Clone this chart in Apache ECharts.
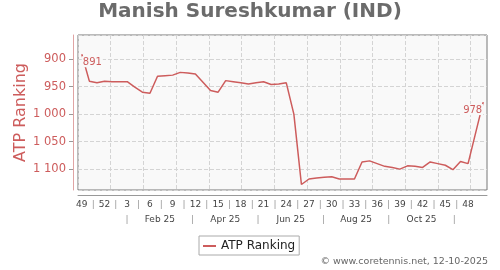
<!DOCTYPE html>
<html>
<head>
<meta charset="utf-8">
<script src="https://cdn.jsdelivr.net/npm/echarts@6/dist/echarts.min.js"></script>
<style>
html, body { margin: 0; padding: 0; background: #fff; }
#chart { width: 500px; height: 270px; }
</style>
</head>
<body>
<div id="chart"></div>
<script>
// ISO weeks, from week 49 of 2024 to week 50 of 2025
const weeks = [49, 50, 51, 52, 1, 2, 3, 4, 5, 6, 7, 8, 9, 10, 11, 12, 13, 14, 15, 16, 17, 18, 19, 20, 21, 22, 23, 24, 25, 26,
    27, 28, 29, 30, 31, 32, 33, 34, 35, 36, 37, 38, 39, 40, 41, 42, 43, 44, 45, 46, 47, 48, 49, 50]
const ranking = [891, 940, 943, 940, 941, 941, 941, 951, 960, 962, 931, 930, 929, 924, 925, 927, 942, 957, 960, 939,
    941, 943, 945, 943, 941, 946, 945, 943, 1000, 1128, 1118, 1116, 1115, 1114, 1118, 1118, 1118, 1087, 1085, 1090,
    1095, 1097, 1100, 1094, 1095, 1097, 1087, 1090, 1093, 1101, 1086, 1090, 1034, 978]
const weekLabelEvery = 3
// second row: half-month steps from 1 Dec 2024 to 15 Dec 2025
const halfMonths = 26
const monthLabels = { 5: 'Feb 25', 9: 'Apr 25', 13: 'Jun 25', 17: 'Aug 25', 21: 'Oct 25' }
const yTicks = [900, 950, 1000, 1050, 1100]

const red = '#cd5c5c'
const plotBg = '#f9f9f9'

// week row: one slot per half week, numbers at week centres, bars between groups
const halfWeekSlots = []
for (let k = 0; k <= weeks.length * 2; k++) halfWeekSlots.push(String(k))
function weekRowLabel(k) {
    if (k % 2 === 1) {
        const i = (k - 1) / 2
        return i % weekLabelEvery === 0 ? '{n|' + weeks[i] + '}' : ''
    }
    const j = k / 2
    return (j % weekLabelEvery === 2 && j < weeks.length - 3) ? '{p||}' : ''
}

const monthSlots = []
for (let k = 0; k < halfMonths; k++) monthSlots.push(String(k))
function monthRowLabel(k) {
    if (monthLabels[k]) return '{n|' + monthLabels[k] + '}'
    return (k % 4 === 3) ? '{p||}' : ''
}

function fmtRank(v) {
    return String(v).replace(/\B(?=(\d{3})+(?!\d))/g, ' ')
}

const seriesData = ranking.map((v, i) => {
    if (i === 0 || i === ranking.length - 1) {
        return {
            value: v,
            label: {
                show: true,
                position: 'bottom',
                align: i === 0 ? 'left' : 'right',
                distance: 2,
                color: red,
                fontSize: 10,
                backgroundColor: plotBg,
                padding: [1, 1, 0, 1]
            }
        }
    }
    return v
})

const chart = echarts.init(document.getElementById('chart'))
chart.setOption({
    animation: false,
    textStyle: { fontFamily: 'DejaVu Sans' },
    title: {
        text: 'Manish Sureshkumar (IND)',
        left: 'center',
        top: 2,
        padding: 0,
        textStyle: { fontSize: 20, fontWeight: 'bold', color: '#6b6b6b' }
    },
    grid: {
        left: 78, right: 13, top: 35, bottom: 80,
        show: true,
        backgroundColor: plotBg,
        borderColor: '#777',
        borderWidth: 1,
        outerBoundsMode: 'none'
    },
    legend: {
        left: 199,
        top: 236,
        padding: [4, 4, 3, 4],
        itemWidth: 13,
        itemHeight: 2,
        borderColor: '#aaa',
        borderWidth: 1,
        backgroundColor: '#fff',
        selectedMode: false,
        textStyle: { fontSize: 12, color: '#222' },
        data: [{ name: 'ATP Ranking', icon: 'rect' }]
    },
    xAxis: [
        {
            type: 'category',
            data: weeks.map((w, i) => i + '-' + w),
            boundaryGap: true,
            position: 'bottom',
            offset: 5,
            axisLine: { show: true, lineStyle: { color: '#999' } },
            axisTick: { show: false },
            axisLabel: { show: false },
            splitLine: { show: false }
        },
        {
            type: 'category',
            data: halfWeekSlots,
            boundaryGap: false,
            position: 'bottom',
            axisLine: { show: false },
            axisTick: { show: false },
            splitLine: { show: false },
            axisLabel: {
                interval: 0,
                margin: 10,
                formatter: (v, k) => weekRowLabel(k),
                rich: {
                    n: { fontSize: 9, color: '#444' },
                    p: { fontSize: 9, color: '#999' }
                }
            }
        },
        {
            type: 'category',
            data: monthSlots,
            boundaryGap: false,
            position: 'bottom',
            axisLine: { show: false },
            axisTick: { show: false },
            splitLine: {
                show: true,
                interval: (k) => k % 2 === 0,
                lineStyle: { color: '#d4d4d4', type: 'dashed' }
            },
            axisLabel: {
                interval: 0,
                margin: 25,
                formatter: (v, k) => monthRowLabel(k),
                rich: {
                    n: { fontSize: 9, color: '#444' },
                    p: { fontSize: 9, color: '#999' }
                }
            }
        }
    ],
    yAxis: {
        type: 'value',
        inverse: true,
        min: 856,
        max: 1138,
        minInterval: yTicks[1] - yTicks[0],
        maxInterval: yTicks[1] - yTicks[0],
        offset: 5,
        name: 'ATP Ranking',
        nameLocation: 'middle',
        nameGap: 44,
        nameMoveOverlap: false,
        nameTextStyle: { color: red, fontSize: 16 },
        axisLine: { show: true, lineStyle: { color: '#e0a4a4' } },
        axisTick: { show: true, length: 4, lineStyle: { color: '#999' } },
        axisLabel: {
            color: red,
            fontSize: 11.5,
            margin: 7,
            showMinLabel: false,
            showMaxLabel: false,
            formatter: fmtRank
        },
        splitLine: { lineStyle: { color: '#d4d4d4', type: 'dashed' } }
    },
    graphic: [{
        type: 'text',
        right: 12,
        top: 257,
        style: {
            text: '\u00a9 www.coretennis.net, 12-10-2025',
            fill: '#666',
            font: '9.5px "DejaVu Sans"'
        }
    }],
    series: [{
        name: 'ATP Ranking',
        type: 'line',
        data: seriesData,
        symbol: 'circle',
        symbolSize: 0,
        showSymbol: true,
        lineStyle: { color: red, width: 1.5 },
        itemStyle: { color: red },
        emphasis: { disabled: true }
    }]
})
</script>
</body>
</html>
